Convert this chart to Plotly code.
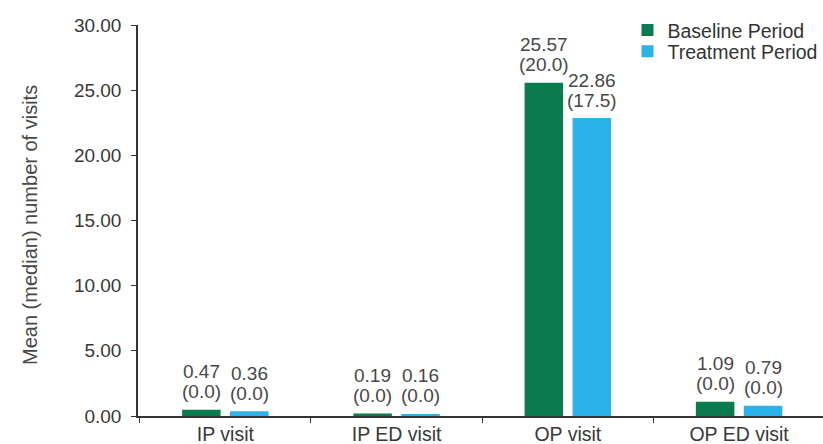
import plotly.graph_objects as go

# Visit categories and per-period values
categories = ["IP visit", "IP ED visit", "OP visit", "OP ED visit"]
baseline_mean = [0.47, 0.19, 25.57, 1.09]
baseline_median = [0.0, 0.0, 20.0, 0.0]
treatment_mean = [0.36, 0.16, 22.86, 0.79]
treatment_median = [0.0, 0.0, 17.5, 0.0]
y_ticks = [0, 5, 10, 15, 20, 25, 30]

GREEN = "#0a7b4e"
BLUE = "#2bb3e9"
TEXT = "#484848"
AXIS = "#333333"
FONT = "Liberation Sans, Arial, sans-serif"

BAR_W = 0.225
BAR_OFF = 0.14

fig = go.Figure()
fig.add_trace(go.Bar(
    name="Baseline Period", x=categories, y=baseline_mean,
    marker=dict(color=GREEN, line=dict(width=0)),
    width=BAR_W, offset=-BAR_OFF - BAR_W / 2, legend="legend",
))
fig.add_trace(go.Bar(
    name="Treatment Period", x=categories, y=treatment_mean,
    marker=dict(color=BLUE, line=dict(width=0)),
    width=BAR_W, offset=BAR_OFF - BAR_W / 2, legend="legend2",
))

# Mean (median) labels above each bar: mean on the upper line, median below
annotations = []
label_font = dict(family=FONT, size=19, color=TEXT)
for series, medians, shift in ((baseline_mean, baseline_median, -BAR_OFF),
                               (treatment_mean, treatment_median, BAR_OFF)):
    for i, (m, md) in enumerate(zip(series, medians)):
        annotations.append(dict(
            x=i + shift, y=m, xref="x", yref="y", text=f"{m:.2f}",
            showarrow=False, xanchor="center", yanchor="middle", yshift=38,
            font=label_font,
        ))
        annotations.append(dict(
            x=i + shift, y=m, xref="x", yref="y", text=f"({md:.1f})",
            showarrow=False, xanchor="center", yanchor="middle", yshift=18,
            font=label_font,
        ))

# Significance marker over the OP visit pair
annotations.append(dict(
    x=2.04, y=31.6, xref="x", yref="y", text="*", showarrow=False,
    font=dict(family=FONT, size=13, color=TEXT),
))

# Rotated y-axis title
annotations.append(dict(
    x=-0.158, y=0.488, xref="paper", yref="paper",
    text="Mean (median) number of visits", textangle=-90, showarrow=False,
    xanchor="center", yanchor="middle",
    font=dict(family=FONT, size=20, color=TEXT),
))

legend_style = dict(
    xanchor="left", yanchor="top", x=0.7146,
    font=dict(family=FONT, size=19.5, color="#333333"),
    bgcolor="rgba(0,0,0,0)", itemwidth=30,
)

fig.update_layout(
    width=823, height=444,
    margin=dict(l=138, r=0, t=25, b=28),
    paper_bgcolor="white", plot_bgcolor="white",
    barmode="group",
    showlegend=True,
    legend=dict(y=1.036, **legend_style),
    legend2=dict(y=0.982, **legend_style),
    annotations=annotations,
    font=dict(family=FONT, color=TEXT),
)

fig.update_xaxes(
    type="category", range=[-0.51, 3.49],
    showline=True, linecolor=AXIS, linewidth=1.5,
    ticks="outside", tickson="boundaries", ticklen=5, tickcolor=AXIS,
    tickfont=dict(family=FONT, size=19.5, color="#383838"),
    showgrid=False, zeroline=False, fixedrange=True,
)
fig.update_yaxes(
    range=[0, 30], tickvals=y_ticks, tickformat=".2f",
    showline=True, linecolor=AXIS, linewidth=1.5,
    ticks="outside", ticklen=5, tickcolor=AXIS,
    tickfont=dict(family=FONT, size=19, color="#383838"),
    ticklabelstandoff=6,
    showgrid=False, zeroline=False, fixedrange=True,
)

fig.write_html("out.html", config={"displayModeBar": False})
